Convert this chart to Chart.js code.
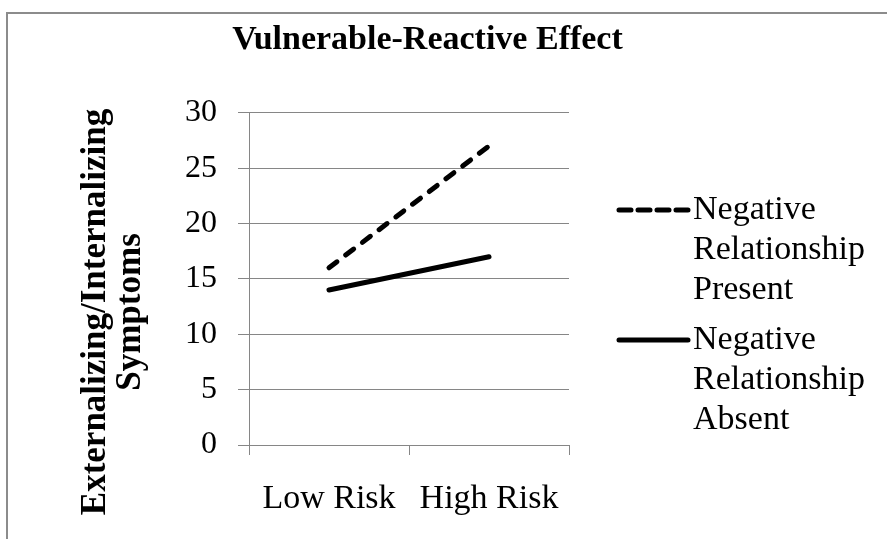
<!DOCTYPE html>
<html>
<head>
<meta charset="utf-8">
<script src="https://cdn.jsdelivr.net/npm/chart.js@4.4.1/dist/chart.umd.min.js"></script>
<style>
  body { margin: 0; background: #fff; }
  #wrap { width: 887px; height: 539px; position: relative; }
</style>
</head>
<body>
<div id="wrap"><canvas id="riskChart"></canvas></div>
<script>
const categories = ['Low Risk', 'High Risk'];
const presentValues = [16, 27];
const absentValues = [14, 17];
const seriesNames = [['Negative', 'Relationship', 'Present'], ['Negative', 'Relationship', 'Absent']];
const yTitleLines = ['Externalizing/Internalizing', 'Symptoms'];

const gridGray = '#868686';
const serif = '"Liberation Serif", "Times New Roman", serif';

// frame, y title and legend are drawn by hand (Excel style)
const decorPlugin = {
    id: 'decor',
    beforeDraw(chart) {
        const ctx = chart.ctx;
        ctx.save();
        ctx.strokeStyle = '#8c8c8c';
        ctx.lineWidth = 2;
        ctx.beginPath();
        ctx.moveTo(7, 539);
        ctx.lineTo(7, 13);
        ctx.lineTo(887, 13);
        ctx.stroke();
        ctx.restore();
    },
    afterDraw(chart) {
        const ctx = chart.ctx;
        ctx.save();
        // y axis title
        ctx.translate(96, 312);
        ctx.rotate(-Math.PI / 2);
        ctx.fillStyle = '#000';
        ctx.font = 'bold 35px ' + serif;
        ctx.textAlign = 'center';
        ctx.textBaseline = 'middle';
        yTitleLines.forEach((t, i) => ctx.fillText(t, 0, i * 35));
        ctx.restore();

        // legend
        ctx.save();
        ctx.font = '34px ' + serif;
        ctx.fillStyle = '#000';
        ctx.textBaseline = 'middle';
        ctx.textAlign = 'left';
        const tops = [210, 340];
        chart.data.datasets.forEach((ds, i) => {
            const y = tops[i];
            ctx.strokeStyle = ds.borderColor;
            ctx.lineWidth = ds.borderWidth;
            ctx.lineCap = 'round';
            ctx.setLineDash(ds.borderDash.length ? [12, 7] : []);
            ctx.beginPath();
            ctx.moveTo(619, y);
            ctx.lineTo(688, y);
            ctx.stroke();
            ctx.setLineDash([]);
            seriesNames[i].forEach((t, j) => ctx.fillText(t, 693, y + j * 40));
        });
        ctx.restore();
    }
};

new Chart(document.getElementById('riskChart'), {
    type: 'line',
    data: {
        labels: categories,
        datasets: [{
            label: seriesNames[0].join(' '),
            data: presentValues,
            borderColor: '#000',
            borderWidth: 5,
            borderDash: [10, 11],
            borderCapStyle: 'round',
            pointRadius: 0
        }, {
            label: seriesNames[1].join(' '),
            data: absentValues,
            borderColor: '#000',
            borderWidth: 5,
            borderDash: [],
            borderCapStyle: 'round',
            pointRadius: 0
        }]
    },
    options: {
        responsive: true,
        maintainAspectRatio: false,
        animation: false,
        layout: { padding: { top: 14, left: 8, right: 40, bottom: 0 } },
        plugins: {
            legend: { display: false },
            tooltip: { enabled: false },
            title: {
                display: true,
                text: 'Vulnerable-Reactive Effect',
                color: '#000',
                font: { family: serif, size: 34, weight: 'bold' },
                padding: { top: 6, bottom: 52 }
            }
        },
        scales: {
            x: {
                offset: true,
                grid: { offset: true, drawOnChartArea: false, tickLength: 10, color: gridGray },
                border: { color: gridGray },
                ticks: { color: '#000', font: { family: serif, size: 34 }, padding: 24, maxRotation: 0 },
                afterFit(scale) { scale.height = 94; }
            },
            y: {
                min: 0,
                max: 30,
                ticks: { stepSize: 5, color: '#000', font: { family: serif, size: 32 }, padding: 21 },
                grid: { color: gridGray, tickLength: 11 },
                border: { color: gridGray },
                afterFit(scale) { scale.width = 241; }
            },
            spacer: {
                position: 'right',
                grid: { display: false },
                border: { display: false },
                ticks: { display: false },
                afterFit(scale) { scale.width = 278; }
            }
        }
    },
    plugins: [decorPlugin]
});
</script>
</body>
</html>
